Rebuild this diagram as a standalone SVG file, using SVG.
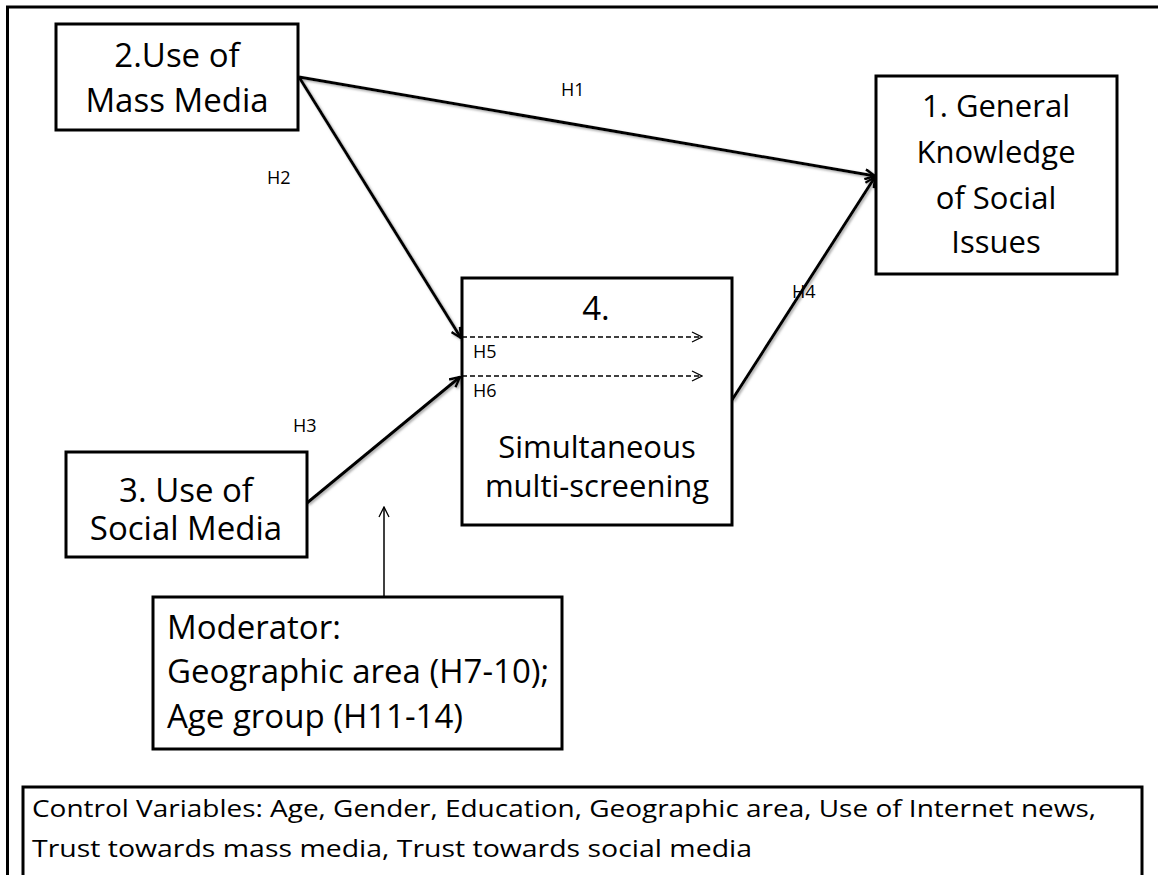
<svg xmlns="http://www.w3.org/2000/svg" width="1158" height="875" viewBox="0 0 1158 875">
  <defs>
    <style>
      .box { fill: #ffffff; stroke: #000000; stroke-width: 3; }
      .big { font-family: "Open Sans", "Liberation Sans", sans-serif; font-size: 33px; fill: #000000; }
      .mid { font-family: "Open Sans", "Liberation Sans", sans-serif; font-size: 31px; fill: #000000; }
      .lbl { font-family: "Open Sans", "Liberation Sans", sans-serif; font-size: 18px; fill: #000000; }
      .ctl { font-family: "Open Sans", "Liberation Sans", sans-serif; font-size: 24px; fill: #000000; }
      .conn { fill: none; stroke: #000000; stroke-width: 3; }
      .dash { fill: none; stroke: #000000; stroke-width: 1.3; stroke-dasharray: 5 3; }
      .thin { fill: none; stroke: #000000; stroke-width: 1.5; }
    </style>
    <marker id="headThick" viewBox="0 0 12 12" refX="11" refY="6" markerWidth="12" markerHeight="12" markerUnits="userSpaceOnUse" orient="auto">
      <path d="M1,1 L11,6 L1,11" fill="none" stroke="#000" stroke-width="2.5"/>
    </marker>
    <marker id="headThin" viewBox="0 0 12 12" refX="11" refY="6" markerWidth="12" markerHeight="12" markerUnits="userSpaceOnUse" orient="auto">
      <path d="M1,1 L11,6 L1,11" fill="none" stroke="#000" stroke-width="1.3"/>
    </marker>
    <filter id="shadow" x="-10%" y="-10%" width="120%" height="120%">
      <feDropShadow dx="1.5" dy="1.5" stdDeviation="1" flood-color="#808080" flood-opacity="0.7"/>
    </filter>
  </defs>

  <rect width="1158" height="875" fill="#ffffff"/>

  <!-- outer frame -->
  <rect x="7.5" y="7" width="1160" height="880" fill="none" stroke="#000" stroke-width="3"/>

  <!-- connectors -->
  <g id="connectors">
    <g filter="url(#shadow)">
      <line class="conn" x1="299" y1="77" x2="875" y2="176" marker-end="url(#headThick)"/>
      <line class="conn" x1="299" y1="77" x2="461" y2="338" marker-end="url(#headThick)"/>
      <line class="conn" x1="307" y1="503" x2="460" y2="377" marker-end="url(#headThick)"/>
      <line class="conn" x1="732" y1="400" x2="875" y2="177" marker-end="url(#headThick)"/>
    </g>
    <line class="thin" x1="384" y1="597" x2="384" y2="507" marker-end="url(#headThin)"/>
    <text class="lbl" x="561" y="96">H1</text>
    <text class="lbl" x="267" y="184">H2</text>
    <text class="lbl" x="293" y="432">H3</text>
    <text class="lbl" x="792" y="298" fill="#333">H4</text>
  </g>

  <!-- node 2 -->
  <g id="node-mass-media">
    <rect class="box" x="56" y="24" width="242" height="106"/>
    <text class="big" x="177" y="67" text-anchor="middle">2.Use of</text>
    <text class="big" x="177" y="112" text-anchor="middle">Mass Media</text>
  </g>

  <!-- node 1 -->
  <g id="node-knowledge">
    <rect class="box" x="876" y="76" width="241" height="198"/>
    <text class="mid" x="996" y="117" text-anchor="middle">1. General</text>
    <text class="mid" x="996" y="163" text-anchor="middle">Knowledge</text>
    <text class="mid" x="996" y="209" text-anchor="middle">of Social</text>
    <text class="mid" x="996" y="253" text-anchor="middle">Issues</text>
  </g>

  <!-- node 3 -->
  <g id="node-social-media">
    <rect class="box" x="66" y="452" width="241" height="105"/>
    <text class="big" x="186" y="502" text-anchor="middle">3. Use of</text>
    <text class="big" x="186" y="540" text-anchor="middle">Social Media</text>
  </g>

  <!-- node 4 -->
  <g id="node-multiscreening">
    <rect class="box" x="462" y="278" width="270" height="247"/>
    <text class="big" x="596" y="320" text-anchor="middle">4.</text>
    <line class="dash" x1="462" y1="337" x2="702" y2="337" marker-end="url(#headThin)"/>
    <line class="dash" x1="462" y1="376" x2="702" y2="376" marker-end="url(#headThin)"/>
    <text class="lbl" x="473" y="358">H5</text>
    <text class="lbl" x="473" y="397">H6</text>
    <text class="mid" x="597" y="458" text-anchor="middle">Simultaneous</text>
    <text class="mid" x="597" y="497" text-anchor="middle">multi-screening</text>
  </g>

  <!-- moderator -->
  <g id="node-moderator">
    <rect class="box" x="153" y="597" width="409" height="152"/>
    <text class="big" x="167" y="639">Moderator:</text>
    <text class="big" x="167" y="683">Geographic area (H7-10);</text>
    <text class="big" x="167" y="728">Age group (H11-14)</text>
  </g>

  <!-- control variables -->
  <g id="node-controls">
    <rect class="box" x="23" y="787" width="1119" height="100"/>
    <text class="ctl" x="32" y="817" textLength="1064" lengthAdjust="spacingAndGlyphs">Control Variables: Age, Gender, Education, Geographic area, Use of Internet news,</text>
    <text class="ctl" x="32" y="857" textLength="720" lengthAdjust="spacingAndGlyphs">Trust towards mass media, Trust towards social media</text>
  </g>
</svg>
